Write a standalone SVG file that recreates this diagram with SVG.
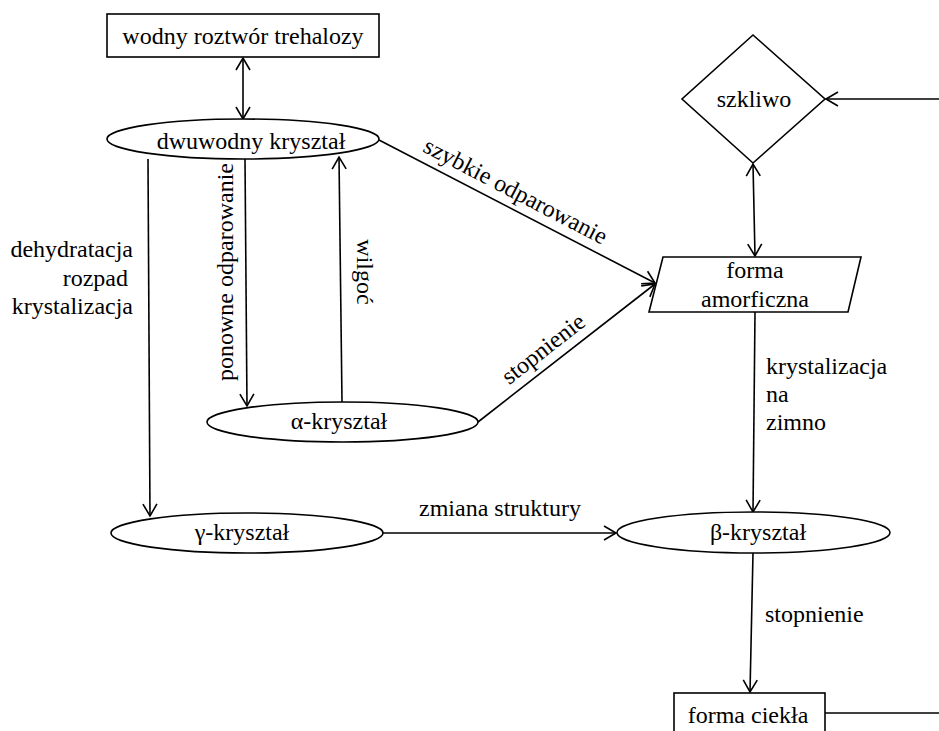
<svg xmlns="http://www.w3.org/2000/svg" width="939" height="731" viewBox="0 0 939 731">
<defs>
<marker id="ah" markerUnits="userSpaceOnUse" markerWidth="20" markerHeight="20" refX="0" refY="0" viewBox="-14 -10 16 20" orient="auto-start-reverse">
<path d="M-12,-7 L0,0 L-12,7" fill="none" stroke="#000" stroke-width="1.6"/>
</marker>
<style>
.sh{fill:#fff;stroke:#000;stroke-width:1.6}
.t{font-family:"Liberation Serif","Times New Roman","DejaVu Serif",serif;font-size:24px;fill:#000}
.m{text-anchor:middle}
.e{text-anchor:end}
.c{fill:none;stroke:#000;stroke-width:1.6}
.a{marker-end:url(#ah)}
.b{marker-start:url(#ah);marker-end:url(#ah)}
</style>
</defs>
<rect width="939" height="731" fill="#fff"/>
<g id="connectors">
<line class="c b" x1="243" y1="58" x2="243" y2="119"/>
<line class="c a" x1="148" y1="159" x2="150" y2="516"/>
<line class="c a" x1="245" y1="159" x2="247" y2="406"/>
<line class="c a" x1="342" y1="402" x2="339" y2="157"/>
<line class="c a" x1="379" y1="140" x2="655" y2="283"/>
<line class="c a" x1="478" y1="422" x2="655" y2="284"/>
<line class="c a" x1="939" y1="99" x2="826" y2="99"/>
<line class="c b" x1="753" y1="164" x2="755" y2="256"/>
<line class="c a" x1="755" y1="312" x2="753" y2="512"/>
<line class="c a" x1="383" y1="533" x2="616" y2="533"/>
<line class="c a" x1="753" y1="553" x2="750" y2="692"/>
<line class="c" x1="825" y1="713" x2="939" y2="713"/>
<text class="t e" x="133" y="257">dehydratacja</text>
<text class="t e" x="128" y="286">rozpad</text>
<text class="t e" x="133" y="314">krystalizacja</text>
<text class="t m" transform="translate(233,272) rotate(-90)">ponowne odparowanie</text>
<text class="t m" transform="translate(357,272) rotate(90)">wilgoć</text>
<text class="t m" transform="translate(512,198) rotate(27.5)">szybkie odparowanie</text>
<text class="t m" transform="translate(548,355) rotate(-38)">stopnienie</text>
<text class="t" x="766" y="374">krystalizacja</text>
<text class="t" x="766" y="402">na</text>
<text class="t" x="766" y="430">zimno</text>
<text class="t m" x="500" y="516">zmiana struktury</text>
<text class="t" x="765" y="622">stopnienie</text>
</g>
<g id="n-roztwor">
<rect class="sh" x="107" y="14" width="272" height="43"/>
<text class="t m" x="243" y="44">wodny roztwór trehalozy</text>
</g>
<g id="n-dwuwodny">
<ellipse class="sh" cx="243" cy="139" rx="136" ry="20"/>
<text class="t m" x="251" y="149">dwuwodny kryształ</text>
</g>
<g id="n-alfa">
<ellipse class="sh" cx="342.5" cy="422" rx="135.5" ry="20"/>
<text class="t m" x="339" y="429">α-kryształ</text>
</g>
<g id="n-gamma">
<ellipse class="sh" cx="247" cy="533" rx="136" ry="20"/>
<text class="t m" x="242" y="540">γ-kryształ</text>
</g>
<g id="n-beta">
<ellipse class="sh" cx="753.5" cy="532.5" rx="136.5" ry="20.5"/>
<text class="t m" x="758" y="540">β-kryształ</text>
</g>
<g id="n-szkliwo">
<polygon class="sh" points="753,35 825,99 753,163 682,99"/>
<text class="t m" x="754" y="107">szkliwo</text>
</g>
<g id="n-amorficzna">
<polygon class="sh" points="663,257 861,257 848,312 649,312"/>
<text class="t m" x="755" y="278">forma</text>
<text class="t m" x="755" y="307">amorficzna</text>
</g>
<g id="n-ciekla">
<rect class="sh" x="674" y="693" width="151" height="50"/>
<text class="t m" x="748" y="723">forma ciekła</text>
</g>
</svg>
